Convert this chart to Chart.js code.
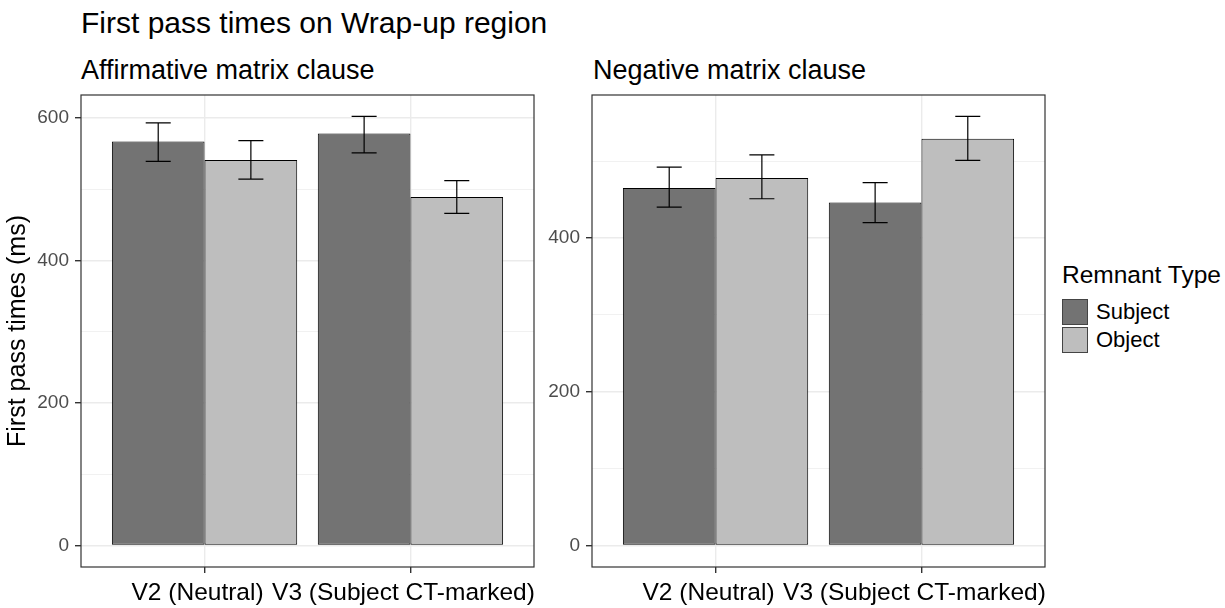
<!DOCTYPE html>
<html>
<head>
<meta charset="utf-8">
<script src="https://cdn.jsdelivr.net/npm/chart.js@4"></script>
<style>
  html, body { margin:0; padding:0; background:#fff; }
  body { width:1225px; height:608px; position:relative; overflow:hidden; font-family:"Liberation Sans", Arial, sans-serif; }
  canvas { position:absolute; left:0; top:0; }
  .txt { position:absolute; white-space:nowrap; color:#000; line-height:1; }
  #legend { position:absolute; left:1062px; top:261px; }
  #legend .ttl { font-size:24.5px; margin-bottom:9px; }
  #legend .row { display:flex; align-items:center; height:28px; font-size:22px; }
  #legend .key { width:24px; height:24px; border:1.5px solid #444; margin-right:8px; box-sizing:content-box; }
</style>
</head>
<body>
<div class="txt" id="mainTitle" style="left:81px; top:8px; font-size:30px;"></div>
<div class="txt" id="leftTitle" style="left:81px; top:57px; font-size:27px;"></div>
<div class="txt" id="rightTitle" style="left:593px; top:57px; font-size:27px;"></div>
<div id="legend"></div>
<canvas id="c1" width="1225" height="608"></canvas>
<canvas id="c2" width="1225" height="608"></canvas>
<script>
// ---- data ----
const mainTitle = "First pass times on Wrap-up region";
const panelTitles = ["Affirmative matrix clause", "Negative matrix clause"];
const yAxisTitle = "First pass times (ms)";
const legendTitle = "Remnant Type";
const categories = ["V2 (Neutral)", "V3 (Subject CT-marked)"];
const remnantTypes = ["Subject", "Object"];
const remnantColors = ["#737373", "#bebebe"];

const affSubject   = [567, 578];
const affSubjectLo = [539, 551];
const affSubjectHi = [593, 602];
const affObject    = [541, 489];
const affObjectLo  = [514, 466];
const affObjectHi  = [568, 512];

const negSubject   = [465, 446];
const negSubjectLo = [440, 420];
const negSubjectHi = [492, 472];
const negObject    = [478, 529];
const negObjectLo  = [451, 501];
const negObjectHi  = [508, 558];

const affMajorTicks = [0, 200, 400, 600];
const affMinorTicks = [100, 300, 500];
const negMajorTicks = [0, 200, 400];
const negMinorTicks = [100, 300, 500];

// ---- text ----
document.getElementById('mainTitle').textContent = mainTitle;
document.getElementById('leftTitle').textContent = panelTitles[0];
document.getElementById('rightTitle').textContent = panelTitles[1];
const lg = document.getElementById('legend');
const lt = document.createElement('div'); lt.className = 'ttl'; lt.textContent = legendTitle; lg.appendChild(lt);
remnantTypes.forEach((r, i) => {
  const row = document.createElement('div'); row.className = 'row';
  const k = document.createElement('div'); k.className = 'key'; k.style.background = remnantColors[i];
  const s = document.createElement('span'); s.textContent = r;
  row.appendChild(k); row.appendChild(s); lg.appendChild(row);
});

Chart.defaults.font.family = '"Liberation Sans", Arial, sans-serif';
Chart.defaults.animation = false;

const errorBarPlugin = {
  id: 'errbars',
  afterDatasetsDraw(chart) {
    const ctx = chart.ctx, ys = chart.scales.y;
    ctx.save();
    ctx.strokeStyle = '#000';
    ctx.lineWidth = 1.2;
    chart.data.datasets.forEach((ds, di) => {
      const meta = chart.getDatasetMeta(di);
      meta.data.forEach((el, i) => {
        const x = el.x, hw = el.width * 0.135;
        const yl = ys.getPixelForValue(ds.errLo[i]);
        const yh = ys.getPixelForValue(ds.errHi[i]);
        ctx.beginPath();
        ctx.moveTo(x, yl); ctx.lineTo(x, yh);
        ctx.moveTo(x - hw, yl); ctx.lineTo(x + hw, yl);
        ctx.moveTo(x - hw, yh); ctx.lineTo(x + hw, yh);
        ctx.stroke();
      });
    });
    ctx.restore();
  },
  afterDraw(chart) {
    const a = chart.chartArea, ctx = chart.ctx;
    ctx.save();
    ctx.strokeStyle = '#333';
    ctx.lineWidth = 1.2;
    ctx.strokeRect(a.left, a.top, a.right - a.left, a.bottom - a.top);
    ctx.restore();
  }
};

function makePanel(canvasId, subj, subjLo, subjHi, obj, objLo, objHi, major, minor, pad, yWidth, showYTitle) {
  const hiAll = subjHi.concat(objHi);
  const yMax = Math.max(...hiAll);
  const yPad = yMax * 0.05;
  const allTicks = major.concat(minor.filter(v => v < yMax + yPad)).sort((a, b) => a - b);
  const mk = (vals) => vals.map((v, i) => ({ x: i + 1, y: v }));
  return new Chart(document.getElementById(canvasId), {
    type: 'bar',
    data: {
      datasets: [
        { label: remnantTypes[0], data: mk(subj), errLo: subjLo, errHi: subjHi,
          backgroundColor: remnantColors[0], borderColor: '#000', borderWidth: 1, borderSkipped: false },
        { label: remnantTypes[1], data: mk(obj), errLo: objLo, errHi: objHi,
          backgroundColor: remnantColors[1], borderColor: '#000', borderWidth: 1, borderSkipped: false }
      ]
    },
    options: {
      responsive: false,
      animation: false,
      categoryPercentage: 0.9,
      barPercentage: 1.0,
      layout: { padding: pad },
      plugins: { legend: { display: false }, title: { display: false }, tooltip: { enabled: false } },
      scales: {
        x: {
          type: 'linear',
          offset: false,
          min: 0.4, max: categories.length + 0.6,
          afterBuildTicks: (s) => { s.ticks = categories.map((c, i) => ({ value: i + 1 })); },
          afterFit: (s) => { s.height = 41; },
          ticks: {
            autoSkip: false, maxRotation: 0, minRotation: 0, padding: 6, labelOffset: -7,
            color: '#000', font: { size: 24.5 },
            callback: (v) => categories[Math.round(v) - 1]
          },
          grid: { offset: false, color: '#ebebeb', lineWidth: 1.4, tickColor: '#333', tickLength: 6, drawOnChartArea: true },
          border: { display: false }
        },
        y: {
          type: 'linear',
          min: -yPad, max: yMax + yPad,
          afterBuildTicks: (s) => { s.ticks = allTicks.map(v => ({ value: v })); },
          afterFit: (s) => { s.width = yWidth; },
          title: { display: showYTitle, text: yAxisTitle, color: '#000', font: { size: 25 }, padding: { top: 3, bottom: 0 } },
          ticks: {
            padding: 6, color: '#4d4d4d', font: { size: 19 },
            callback: (v) => major.includes(v) ? String(v) : ''
          },
          grid: {
            color: '#ebebeb',
            lineWidth: (c) => (c.tick && major.includes(c.tick.value)) ? 1.4 : 0.7,
            tickColor: (c) => (c.tick && major.includes(c.tick.value)) ? '#333' : 'rgba(0,0,0,0)',
            tickLength: 6
          },
          border: { display: false }
        }
      }
    },
    plugins: [errorBarPlugin]
  });
}

makePanel('c1', affSubject, affSubjectLo, affSubjectHi, affObject, affObjectLo, affObjectHi,
  affMajorTicks, affMinorTicks, { top: 95, left: 0, right: 1225 - 534, bottom: 0 }, 81, true);
makePanel('c2', negSubject, negSubjectLo, negSubjectHi, negObject, negObjectLo, negObjectHi,
  negMajorTicks, negMinorTicks, { top: 95, left: 545, right: 1225 - 1045, bottom: 0 }, 47, false);
</script>
</body>
</html>
